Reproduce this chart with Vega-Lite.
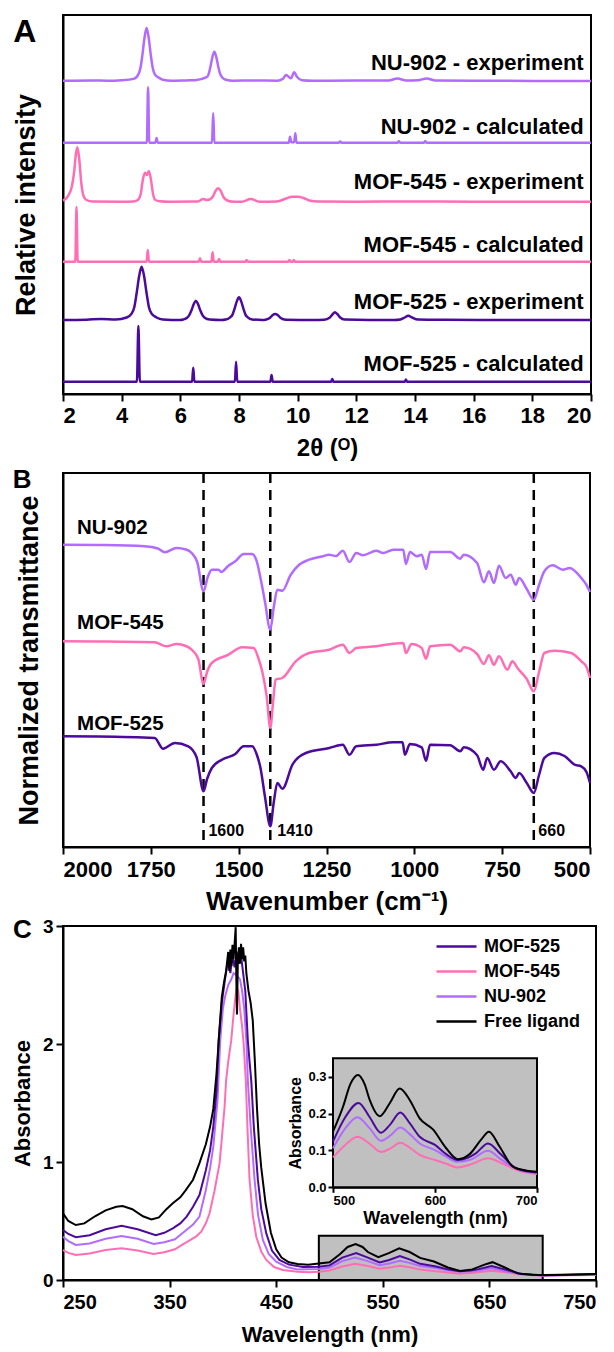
{
"$schema":"https://vega.github.io/schema/vega-lite/v6.json",
"background":"white",
"padding":{"left":10,"top":14,"right":8,"bottom":5},
"spacing":79,
"bounds":"flush",
"resolve":{"scale":{"color":"independent"}},
"config":{"font":"Liberation Sans","view":{"stroke":"black","strokeWidth":2},
"axis":{"grid":false,"domainColor":"black","domainWidth":2,"tickColor":"black","tickWidth":2,"tickSize":7,"labelColor":"black","titleColor":"black","labelFontWeight":"bold","titleFontWeight":"bold","labelFont":"Liberation Sans","titleFont":"Liberation Sans"}},
"datasets":{
"xrd":[
{"s":"NU-902 exp","x":2.0,"y":313.3},{"s":"NU-902 exp","x":3.0,"y":313.6},{"s":"NU-902 exp","x":3.5,"y":313.3},{"s":"NU-902 exp","x":4.0,"y":313.8},{"s":"NU-902 exp","x":4.43,"y":315.4},{"s":"NU-902 exp","x":4.57,"y":319.6},{"s":"NU-902 exp","x":4.64,"y":325.9},{"s":"NU-902 exp","x":4.71,"y":339.7},{"s":"NU-902 exp","x":4.78,"y":356.5},{"s":"NU-902 exp","x":4.85,"y":366},{"s":"NU-902 exp","x":4.92,"y":356.5},{"s":"NU-902 exp","x":4.99,"y":339.7},{"s":"NU-902 exp","x":5.06,"y":325.9},{"s":"NU-902 exp","x":5.13,"y":319.6},{"s":"NU-902 exp","x":5.27,"y":316.3},{"s":"NU-902 exp","x":5.4,"y":314.3},{"s":"NU-902 exp","x":5.7,"y":313.3},{"s":"NU-902 exp","x":6.2,"y":313.6},{"s":"NU-902 exp","x":6.5,"y":313.8},{"s":"NU-902 exp","x":6.9,"y":316.8},{"s":"NU-902 exp","x":6.97,"y":320.3},{"s":"NU-902 exp","x":7.03,"y":327.8},{"s":"NU-902 exp","x":7.095,"y":337.1},{"s":"NU-902 exp","x":7.16,"y":342.3},{"s":"NU-902 exp","x":7.225,"y":337.1},{"s":"NU-902 exp","x":7.29,"y":327.8},{"s":"NU-902 exp","x":7.355,"y":320.3},{"s":"NU-902 exp","x":7.42,"y":316.8},{"s":"NU-902 exp","x":7.55,"y":314.3},{"s":"NU-902 exp","x":7.8,"y":313.3},{"s":"NU-902 exp","x":8.5,"y":313.5},{"s":"NU-902 exp","x":9.3,"y":313.3},{"s":"NU-902 exp","x":9.5,"y":315.3},{"s":"NU-902 exp","x":9.6,"y":319},{"s":"NU-902 exp","x":9.7,"y":317},{"s":"NU-902 exp","x":9.77,"y":315.7},{"s":"NU-902 exp","x":9.88,"y":321.7},{"s":"NU-902 exp","x":9.98,"y":317},{"s":"NU-902 exp","x":10.15,"y":313.8},{"s":"NU-902 exp","x":10.5,"y":313.3},{"s":"NU-902 exp","x":12,"y":313.5},{"s":"NU-902 exp","x":13.1,"y":313.5},{"s":"NU-902 exp","x":13.4,"y":315.5},{"s":"NU-902 exp","x":13.7,"y":313.5},{"s":"NU-902 exp","x":14.1,"y":313.8},{"s":"NU-902 exp","x":14.4,"y":315.5},{"s":"NU-902 exp","x":14.7,"y":313.5},{"s":"NU-902 exp","x":16,"y":313.3},{"s":"NU-902 exp","x":18,"y":313.1},{"s":"NU-902 exp","x":20,"y":313.0},
{"s":"NU-902 calc","x":2,"y":251.3},{"s":"NU-902 calc","x":4.86,"y":251.3},{"s":"NU-902 calc","x":4.9,"y":306.7},{"s":"NU-902 calc","x":4.94,"y":251.3},{"s":"NU-902 calc","x":5.15,"y":251.3},{"s":"NU-902 calc","x":5.19,"y":256},{"s":"NU-902 calc","x":5.23,"y":251.3},{"s":"NU-902 calc","x":7.08,"y":251.3},{"s":"NU-902 calc","x":7.12,"y":280.7},{"s":"NU-902 calc","x":7.16,"y":251.3},{"s":"NU-902 calc","x":9.7,"y":251.3},{"s":"NU-902 calc","x":9.74,"y":257.3},{"s":"NU-902 calc","x":9.78,"y":251.8},{"s":"NU-902 calc","x":9.88,"y":251.8},{"s":"NU-902 calc","x":9.92,"y":260.7},{"s":"NU-902 calc","x":9.96,"y":251.3},{"s":"NU-902 calc","x":11.4,"y":251.3},{"s":"NU-902 calc","x":11.45,"y":252.5},{"s":"NU-902 calc","x":11.5,"y":251.3},{"s":"NU-902 calc","x":13.4,"y":251.3},{"s":"NU-902 calc","x":13.45,"y":252.8},{"s":"NU-902 calc","x":13.5,"y":251.3},{"s":"NU-902 calc","x":14.3,"y":251.3},{"s":"NU-902 calc","x":14.35,"y":252.8},{"s":"NU-902 calc","x":14.4,"y":251.3},{"s":"NU-902 calc","x":20,"y":251.3},
{"s":"MOF-545 exp","x":2.0,"y":193.5},{"s":"MOF-545 exp","x":2.15,"y":197},{"s":"MOF-545 exp","x":2.3,"y":207.3},{"s":"MOF-545 exp","x":2.38,"y":222},{"s":"MOF-545 exp","x":2.44,"y":240},{"s":"MOF-545 exp","x":2.49,"y":246.7},{"s":"MOF-545 exp","x":2.55,"y":236},{"s":"MOF-545 exp","x":2.62,"y":212},{"s":"MOF-545 exp","x":2.7,"y":198},{"s":"MOF-545 exp","x":2.8,"y":194},{"s":"MOF-545 exp","x":3.0,"y":192.5},{"s":"MOF-545 exp","x":4.0,"y":192.3},{"s":"MOF-545 exp","x":4.4,"y":192.5},{"s":"MOF-545 exp","x":4.55,"y":194},{"s":"MOF-545 exp","x":4.65,"y":200},{"s":"MOF-545 exp","x":4.72,"y":214},{"s":"MOF-545 exp","x":4.8,"y":221.3},{"s":"MOF-545 exp","x":4.86,"y":219},{"s":"MOF-545 exp","x":4.93,"y":223},{"s":"MOF-545 exp","x":5.0,"y":214},{"s":"MOF-545 exp","x":5.07,"y":200},{"s":"MOF-545 exp","x":5.15,"y":194},{"s":"MOF-545 exp","x":5.3,"y":192.8},{"s":"MOF-545 exp","x":5.6,"y":192.3},{"s":"MOF-545 exp","x":6.6,"y":192.5},{"s":"MOF-545 exp","x":6.78,"y":195},{"s":"MOF-545 exp","x":6.9,"y":194},{"s":"MOF-545 exp","x":7.0,"y":194.5},{"s":"MOF-545 exp","x":7.12,"y":198},{"s":"MOF-545 exp","x":7.2,"y":203},{"s":"MOF-545 exp","x":7.29,"y":205.7},{"s":"MOF-545 exp","x":7.38,"y":203},{"s":"MOF-545 exp","x":7.47,"y":197},{"s":"MOF-545 exp","x":7.6,"y":193.5},{"s":"MOF-545 exp","x":7.8,"y":192.3},{"s":"MOF-545 exp","x":8.1,"y":192.3},{"s":"MOF-545 exp","x":8.4,"y":195},{"s":"MOF-545 exp","x":8.7,"y":192.3},{"s":"MOF-545 exp","x":9.3,"y":192.5},{"s":"MOF-545 exp","x":9.6,"y":195.5},{"s":"MOF-545 exp","x":9.8,"y":197.3},{"s":"MOF-545 exp","x":10.0,"y":197.3},{"s":"MOF-545 exp","x":10.2,"y":196},{"s":"MOF-545 exp","x":10.4,"y":193.5},{"s":"MOF-545 exp","x":10.7,"y":192.5},{"s":"MOF-545 exp","x":12,"y":192.3},{"s":"MOF-545 exp","x":14,"y":192.5},{"s":"MOF-545 exp","x":16,"y":192.3},{"s":"MOF-545 exp","x":18,"y":192.2},{"s":"MOF-545 exp","x":20,"y":192.3},
{"s":"MOF-545 calc","x":2,"y":132.3},{"s":"MOF-545 calc","x":2.42,"y":132.3},{"s":"MOF-545 calc","x":2.46,"y":187},{"s":"MOF-545 calc","x":2.5,"y":132.3},{"s":"MOF-545 calc","x":4.85,"y":132.3},{"s":"MOF-545 calc","x":4.89,"y":144},{"s":"MOF-545 calc","x":4.93,"y":132.3},{"s":"MOF-545 calc","x":6.63,"y":132.3},{"s":"MOF-545 calc","x":6.67,"y":135.7},{"s":"MOF-545 calc","x":6.71,"y":132.3},{"s":"MOF-545 calc","x":7.06,"y":132.3},{"s":"MOF-545 calc","x":7.1,"y":141.7},{"s":"MOF-545 calc","x":7.14,"y":132.3},{"s":"MOF-545 calc","x":7.28,"y":132.3},{"s":"MOF-545 calc","x":7.32,"y":135},{"s":"MOF-545 calc","x":7.36,"y":132.3},{"s":"MOF-545 calc","x":8.22,"y":132.3},{"s":"MOF-545 calc","x":8.26,"y":134},{"s":"MOF-545 calc","x":8.3,"y":132.3},{"s":"MOF-545 calc","x":9.68,"y":132.3},{"s":"MOF-545 calc","x":9.72,"y":134},{"s":"MOF-545 calc","x":9.76,"y":132.3},{"s":"MOF-545 calc","x":9.83,"y":132.3},{"s":"MOF-545 calc","x":9.87,"y":134},{"s":"MOF-545 calc","x":9.91,"y":132.3},{"s":"MOF-545 calc","x":20,"y":132.3},
{"s":"MOF-525 exp","x":2.0,"y":74},{"s":"MOF-525 exp","x":2.8,"y":74.3},{"s":"MOF-525 exp","x":3.3,"y":75},{"s":"MOF-525 exp","x":3.8,"y":74.5},{"s":"MOF-525 exp","x":4.17,"y":76.5},{"s":"MOF-525 exp","x":4.34,"y":80.4},{"s":"MOF-525 exp","x":4.43,"y":86.8},{"s":"MOF-525 exp","x":4.51,"y":100.7},{"s":"MOF-525 exp","x":4.595,"y":117.7},{"s":"MOF-525 exp","x":4.68,"y":127.3},{"s":"MOF-525 exp","x":4.765,"y":117.7},{"s":"MOF-525 exp","x":4.85,"y":100.7},{"s":"MOF-525 exp","x":4.93,"y":86.8},{"s":"MOF-525 exp","x":5.02,"y":80.4},{"s":"MOF-525 exp","x":5.19,"y":76.5},{"s":"MOF-525 exp","x":5.4,"y":74.5},{"s":"MOF-525 exp","x":6.0,"y":74},{"s":"MOF-525 exp","x":6.1,"y":74.5},{"s":"MOF-525 exp","x":6.23,"y":76.3},{"s":"MOF-525 exp","x":6.3,"y":78.6},{"s":"MOF-525 exp","x":6.38,"y":83.7},{"s":"MOF-525 exp","x":6.455,"y":89.8},{"s":"MOF-525 exp","x":6.53,"y":93.3},{"s":"MOF-525 exp","x":6.605,"y":89.8},{"s":"MOF-525 exp","x":6.68,"y":83.7},{"s":"MOF-525 exp","x":6.76,"y":78.6},{"s":"MOF-525 exp","x":6.83,"y":76.3},{"s":"MOF-525 exp","x":7.0,"y":74.5},{"s":"MOF-525 exp","x":7.4,"y":74},{"s":"MOF-525 exp","x":7.55,"y":74.5},{"s":"MOF-525 exp","x":7.7,"y":76.7},{"s":"MOF-525 exp","x":7.78,"y":79.4},{"s":"MOF-525 exp","x":7.85,"y":85.4},{"s":"MOF-525 exp","x":7.925,"y":92.6},{"s":"MOF-525 exp","x":8.0,"y":96.7},{"s":"MOF-525 exp","x":8.075,"y":92.6},{"s":"MOF-525 exp","x":8.15,"y":85.4},{"s":"MOF-525 exp","x":8.22,"y":79.4},{"s":"MOF-525 exp","x":8.3,"y":76.7},{"s":"MOF-525 exp","x":8.45,"y":74.6},{"s":"MOF-525 exp","x":8.8,"y":74},{"s":"MOF-525 exp","x":8.9,"y":74.3},{"s":"MOF-525 exp","x":9.05,"y":76},{"s":"MOF-525 exp","x":9.15,"y":79},{"s":"MOF-525 exp","x":9.23,"y":80},{"s":"MOF-525 exp","x":9.32,"y":79},{"s":"MOF-525 exp","x":9.42,"y":76},{"s":"MOF-525 exp","x":9.6,"y":74.3},{"s":"MOF-525 exp","x":10.5,"y":74},{"s":"MOF-525 exp","x":10.9,"y":74.3},{"s":"MOF-525 exp","x":11.1,"y":76.5},{"s":"MOF-525 exp","x":11.2,"y":80},{"s":"MOF-525 exp","x":11.27,"y":81.7},{"s":"MOF-525 exp","x":11.35,"y":80},{"s":"MOF-525 exp","x":11.45,"y":76.5},{"s":"MOF-525 exp","x":11.6,"y":74.5},{"s":"MOF-525 exp","x":13.3,"y":74},{"s":"MOF-525 exp","x":13.5,"y":74.5},{"s":"MOF-525 exp","x":13.65,"y":76.5},{"s":"MOF-525 exp","x":13.77,"y":78.3},{"s":"MOF-525 exp","x":13.9,"y":76.5},{"s":"MOF-525 exp","x":14.1,"y":74.5},{"s":"MOF-525 exp","x":15,"y":74.2},{"s":"MOF-525 exp","x":17,"y":74},{"s":"MOF-525 exp","x":20,"y":74},
{"s":"MOF-525 calc","x":2,"y":12.3},{"s":"MOF-525 calc","x":4.52,"y":12.3},{"s":"MOF-525 calc","x":4.57,"y":68},{"s":"MOF-525 calc","x":4.62,"y":12.3},{"s":"MOF-525 calc","x":6.4,"y":12.3},{"s":"MOF-525 calc","x":6.44,"y":26.3},{"s":"MOF-525 calc","x":6.48,"y":12.3},{"s":"MOF-525 calc","x":7.86,"y":12.3},{"s":"MOF-525 calc","x":7.9,"y":32.3},{"s":"MOF-525 calc","x":7.94,"y":12.3},{"s":"MOF-525 calc","x":9.07,"y":12.3},{"s":"MOF-525 calc","x":9.11,"y":19},{"s":"MOF-525 calc","x":9.15,"y":12.3},{"s":"MOF-525 calc","x":11.14,"y":12.3},{"s":"MOF-525 calc","x":11.18,"y":15},{"s":"MOF-525 calc","x":11.22,"y":12.3},{"s":"MOF-525 calc","x":13.65,"y":12.3},{"s":"MOF-525 calc","x":13.69,"y":14.5},{"s":"MOF-525 calc","x":13.73,"y":12.3},{"s":"MOF-525 calc","x":20,"y":12.3}
],
"ftir":[
{"m":"NU-902","wn":2000,"v":302.3},{"m":"NU-902","wn":1900,"v":302},{"m":"NU-902","wn":1767.7,"v":300.7},{"m":"NU-902","wn":1730,"v":298.5},{"m":"NU-902","wn":1710.3,"v":294.7},{"m":"NU-902","wn":1676.8,"v":299},{"m":"NU-902","wn":1650,"v":297.5},{"m":"NU-902","wn":1633.8,"v":294},{"m":"NU-902","wn":1618,"v":285},{"m":"NU-902","wn":1600,"v":255.7},{"m":"NU-902","wn":1588,"v":270},{"m":"NU-902","wn":1576.4,"v":277.3},{"m":"NU-902","wn":1557.5,"v":277.3},{"m":"NU-902","wn":1549.8,"v":275},{"m":"NU-902","wn":1530,"v":281},{"m":"NU-902","wn":1509.6,"v":285.7},{"m":"NU-902","wn":1485.8,"v":293},{"m":"NU-902","wn":1461.7,"v":293},{"m":"NU-902","wn":1448,"v":285},{"m":"NU-902","wn":1437.9,"v":269},{"m":"NU-902","wn":1425,"v":245},{"m":"NU-902","wn":1410,"v":217.3},{"m":"NU-902","wn":1400,"v":240},{"m":"NU-902","wn":1389.9,"v":257.3},{"m":"NU-902","wn":1375.6,"v":256.3},{"m":"NU-902","wn":1351.8,"v":272.3},{"m":"NU-902","wn":1328,"v":282.3},{"m":"NU-902","wn":1299.3,"v":287.3},{"m":"NU-902","wn":1260.9,"v":290.7},{"m":"NU-902","wn":1242.9,"v":292.3},{"m":"NU-902","wn":1222.8,"v":291},{"m":"NU-902","wn":1203.6,"v":296.3},{"m":"NU-902","wn":1184.6,"v":285},{"m":"NU-902","wn":1165.4,"v":294},{"m":"NU-902","wn":1146.2,"v":291.7},{"m":"NU-902","wn":1108,"v":296.3},{"m":"NU-902","wn":1088.8,"v":294},{"m":"NU-902","wn":1060.2,"v":297.3},{"m":"NU-902","wn":1031.5,"v":297.3},{"m":"NU-902","wn":1024,"v":283},{"m":"NU-902","wn":1012.5,"v":295},{"m":"NU-902","wn":993.3,"v":290.7},{"m":"NU-902","wn":979,"v":292.3},{"m":"NU-902","wn":966.7,"v":278},{"m":"NU-902","wn":955.2,"v":295},{"m":"NU-902","wn":897.8,"v":295},{"m":"NU-902","wn":869.2,"v":288.3},{"m":"NU-902","wn":859.4,"v":292.3},{"m":"NU-902","wn":821.3,"v":284},{"m":"NU-902","wn":802,"v":264.7},{"m":"NU-902","wn":787.7,"v":275.7},{"m":"NU-902","wn":773.4,"v":264},{"m":"NU-902","wn":759,"v":281.3},{"m":"NU-902","wn":740.1,"v":269},{"m":"NU-902","wn":725.8,"v":272.3},{"m":"NU-902","wn":711.4,"v":262.3},{"m":"NU-902","wn":701.7,"v":269},{"m":"NU-902","wn":680,"v":258},{"m":"NU-902","wn":660,"v":247.3},{"m":"NU-902","wn":645,"v":262},{"m":"NU-902","wn":629.9,"v":275.7},{"m":"NU-902","wn":606.1,"v":281.7},{"m":"NU-902","wn":577.4,"v":277.3},{"m":"NU-902","wn":558.2,"v":279},{"m":"NU-902","wn":524.9,"v":269},{"m":"NU-902","wn":510,"v":262},{"m":"NU-902","wn":500,"v":255},
{"m":"MOF-545","wn":2000,"v":205.7},{"m":"MOF-545","wn":1900,"v":205.5},{"m":"MOF-545","wn":1739,"v":204.7},{"m":"MOF-545","wn":1705.5,"v":200.7},{"m":"MOF-545","wn":1676.8,"v":203},{"m":"MOF-545","wn":1650,"v":201},{"m":"MOF-545","wn":1633.8,"v":197.3},{"m":"MOF-545","wn":1615,"v":188},{"m":"MOF-545","wn":1600,"v":163},{"m":"MOF-545","wn":1590,"v":175},{"m":"MOF-545","wn":1576.4,"v":184},{"m":"MOF-545","wn":1528.8,"v":192.3},{"m":"MOF-545","wn":1490.3,"v":199.7},{"m":"MOF-545","wn":1457.1,"v":199},{"m":"MOF-545","wn":1445,"v":190},{"m":"MOF-545","wn":1433,"v":175.7},{"m":"MOF-545","wn":1420,"v":150},{"m":"MOF-545","wn":1410,"v":119},{"m":"MOF-545","wn":1402,"v":145},{"m":"MOF-545","wn":1394.9,"v":167.3},{"m":"MOF-545","wn":1375.6,"v":169},{"m":"MOF-545","wn":1337.5,"v":185.7},{"m":"MOF-545","wn":1299.3,"v":194},{"m":"MOF-545","wn":1242,"v":197.3},{"m":"MOF-545","wn":1203.6,"v":202.3},{"m":"MOF-545","wn":1184.6,"v":194},{"m":"MOF-545","wn":1165.4,"v":199},{"m":"MOF-545","wn":1108,"v":200.7},{"m":"MOF-545","wn":1060.2,"v":203.3},{"m":"MOF-545","wn":1031.5,"v":204},{"m":"MOF-545","wn":1024,"v":194},{"m":"MOF-545","wn":1007.7,"v":203},{"m":"MOF-545","wn":979,"v":199},{"m":"MOF-545","wn":966.7,"v":188.3},{"m":"MOF-545","wn":955.2,"v":200.7},{"m":"MOF-545","wn":897.8,"v":202.3},{"m":"MOF-545","wn":869.2,"v":195.7},{"m":"MOF-545","wn":859.4,"v":199.7},{"m":"MOF-545","wn":821.3,"v":193},{"m":"MOF-545","wn":802,"v":183},{"m":"MOF-545","wn":787.7,"v":191.7},{"m":"MOF-545","wn":773.4,"v":182.3},{"m":"MOF-545","wn":759,"v":190.7},{"m":"MOF-545","wn":735.2,"v":177.3},{"m":"MOF-545","wn":720.9,"v":185.7},{"m":"MOF-545","wn":706.5,"v":179},{"m":"MOF-545","wn":680,"v":168},{"m":"MOF-545","wn":660,"v":155.7},{"m":"MOF-545","wn":645,"v":175},{"m":"MOF-545","wn":629.9,"v":194},{"m":"MOF-545","wn":601.3,"v":196.3},{"m":"MOF-545","wn":553.6,"v":194},{"m":"MOF-545","wn":524.9,"v":185.7},{"m":"MOF-545","wn":510,"v":180},{"m":"MOF-545","wn":500,"v":169},
{"m":"MOF-525","wn":2000,"v":110.7},{"m":"MOF-525","wn":1900,"v":110.5},{"m":"MOF-525","wn":1739,"v":109},{"m":"MOF-525","wn":1715.2,"v":98.3},{"m":"MOF-525","wn":1681.7,"v":104},{"m":"MOF-525","wn":1643.5,"v":100.7},{"m":"MOF-525","wn":1620,"v":90},{"m":"MOF-525","wn":1600,"v":55.7},{"m":"MOF-525","wn":1590,"v":68},{"m":"MOF-525","wn":1576.4,"v":79},{"m":"MOF-525","wn":1547.7,"v":87.3},{"m":"MOF-525","wn":1509.6,"v":93},{"m":"MOF-525","wn":1485.8,"v":100.7},{"m":"MOF-525","wn":1461.7,"v":100.7},{"m":"MOF-525","wn":1448,"v":92},{"m":"MOF-525","wn":1437.9,"v":79},{"m":"MOF-525","wn":1425,"v":50},{"m":"MOF-525","wn":1410,"v":20.7},{"m":"MOF-525","wn":1400,"v":45},{"m":"MOF-525","wn":1389.9,"v":64},{"m":"MOF-525","wn":1375.6,"v":58.3},{"m":"MOF-525","wn":1346.9,"v":82.3},{"m":"MOF-525","wn":1308.8,"v":94},{"m":"MOF-525","wn":1242,"v":99},{"m":"MOF-525","wn":1203.6,"v":102.3},{"m":"MOF-525","wn":1184.6,"v":92.3},{"m":"MOF-525","wn":1165.4,"v":100.7},{"m":"MOF-525","wn":1108,"v":102.3},{"m":"MOF-525","wn":1060.2,"v":104.7},{"m":"MOF-525","wn":1033.5,"v":104.7},{"m":"MOF-525","wn":1026.9,"v":92.3},{"m":"MOF-525","wn":1012.5,"v":103},{"m":"MOF-525","wn":979,"v":99.7},{"m":"MOF-525","wn":966.7,"v":86.3},{"m":"MOF-525","wn":955.2,"v":102.3},{"m":"MOF-525","wn":897.8,"v":101.7},{"m":"MOF-525","wn":869.2,"v":95.7},{"m":"MOF-525","wn":859.4,"v":99.7},{"m":"MOF-525","wn":821.3,"v":91.7},{"m":"MOF-525","wn":804,"v":77.3},{"m":"MOF-525","wn":792.6,"v":89},{"m":"MOF-525","wn":773.4,"v":77.3},{"m":"MOF-525","wn":754.4,"v":85.7},{"m":"MOF-525","wn":725.8,"v":75.7},{"m":"MOF-525","wn":711.4,"v":69},{"m":"MOF-525","wn":701.7,"v":74},{"m":"MOF-525","wn":680,"v":64},{"m":"MOF-525","wn":660,"v":54},{"m":"MOF-525","wn":645,"v":72},{"m":"MOF-525","wn":629.9,"v":89},{"m":"MOF-525","wn":601.3,"v":94},{"m":"MOF-525","wn":572.6,"v":91},{"m":"MOF-525","wn":543.9,"v":82.3},{"m":"MOF-525","wn":524.9,"v":80.7},{"m":"MOF-525","wn":510,"v":75},{"m":"MOF-525","wn":500,"v":64}
],
"uv":[
{"m":"MOF-545","wl":250,"a":0.254},{"m":"MOF-545","wl":255,"a":0.23},{"m":"MOF-545","wl":262,"a":0.212},{"m":"MOF-545","wl":275,"a":0.225},{"m":"MOF-545","wl":290,"a":0.255},{"m":"MOF-545","wl":305,"a":0.268},{"m":"MOF-545","wl":320,"a":0.25},{"m":"MOF-545","wl":335,"a":0.22},{"m":"MOF-545","wl":345,"a":0.235},{"m":"MOF-545","wl":355,"a":0.26},{"m":"MOF-545","wl":362,"a":0.3},{"m":"MOF-545","wl":370.4,"a":0.345},{"m":"MOF-545","wl":375,"a":0.37},{"m":"MOF-545","wl":379.7,"a":0.41},{"m":"MOF-545","wl":384,"a":0.48},{"m":"MOF-545","wl":387.5,"a":0.565},{"m":"MOF-545","wl":392,"a":0.75},{"m":"MOF-545","wl":396.9,"a":0.99},{"m":"MOF-545","wl":399,"a":1.2},{"m":"MOF-545","wl":401.6,"a":1.47},{"m":"MOF-545","wl":403,"a":1.69},{"m":"MOF-545","wl":405,"a":1.85},{"m":"MOF-545","wl":407.8,"a":2.03},{"m":"MOF-545","wl":410,"a":2.25},{"m":"MOF-545","wl":412,"a":2.42},{"m":"MOF-545","wl":413,"a":2.48},{"m":"MOF-545","wl":414.5,"a":2.45},{"m":"MOF-545","wl":416,"a":2.3},{"m":"MOF-545","wl":418,"a":2.15},{"m":"MOF-545","wl":419.5,"a":2.0},{"m":"MOF-545","wl":421.5,"a":1.69},{"m":"MOF-545","wl":423,"a":1.3},{"m":"MOF-545","wl":425,"a":0.85},{"m":"MOF-545","wl":428,"a":0.55},{"m":"MOF-545","wl":431.3,"a":0.367},{"m":"MOF-545","wl":436,"a":0.24},{"m":"MOF-545","wl":440.7,"a":0.17},{"m":"MOF-545","wl":448,"a":0.11},{"m":"MOF-545","wl":456.3,"a":0.085},{"m":"MOF-545","wl":470,"a":0.07},{"m":"MOF-545","wl":481,"a":0.065},{"m":"MOF-545","wl":490,"a":0.07},{"m":"MOF-545","wl":500,"a":0.081},{"m":"MOF-545","wl":512,"a":0.115},{"m":"MOF-545","wl":524,"a":0.137},{"m":"MOF-545","wl":536,"a":0.118},{"m":"MOF-545","wl":547,"a":0.096},{"m":"MOF-545","wl":556,"a":0.105},{"m":"MOF-545","wl":566,"a":0.121},{"m":"MOF-545","wl":575,"a":0.108},{"m":"MOF-545","wl":585,"a":0.088},{"m":"MOF-545","wl":600,"a":0.074},{"m":"MOF-545","wl":611,"a":0.064},{"m":"MOF-545","wl":622,"a":0.054},{"m":"MOF-545","wl":635,"a":0.062},{"m":"MOF-545","wl":652,"a":0.079},{"m":"MOF-545","wl":665,"a":0.066},{"m":"MOF-545","wl":680,"a":0.047},{"m":"MOF-545","wl":700,"a":0.036},{"m":"MOF-545","wl":725,"a":0.04},{"m":"MOF-545","wl":750,"a":0.043},
{"m":"NU-902","wl":250,"a":0.367},{"m":"NU-902","wl":255,"a":0.33},{"m":"NU-902","wl":262,"a":0.297},{"m":"NU-902","wl":275,"a":0.31},{"m":"NU-902","wl":290,"a":0.35},{"m":"NU-902","wl":305,"a":0.373},{"m":"NU-902","wl":320,"a":0.35},{"m":"NU-902","wl":335,"a":0.305},{"m":"NU-902","wl":345,"a":0.32},{"m":"NU-902","wl":355,"a":0.345},{"m":"NU-902","wl":365.7,"a":0.424},{"m":"NU-902","wl":372,"a":0.47},{"m":"NU-902","wl":378,"a":0.537},{"m":"NU-902","wl":384,"a":0.763},{"m":"NU-902","wl":388,"a":0.95},{"m":"NU-902","wl":391,"a":1.13},{"m":"NU-902","wl":395,"a":1.53},{"m":"NU-902","wl":397.5,"a":2.03},{"m":"NU-902","wl":400,"a":2.3},{"m":"NU-902","wl":402,"a":2.4},{"m":"NU-902","wl":405,"a":2.5},{"m":"NU-902","wl":408,"a":2.55},{"m":"NU-902","wl":410,"a":2.6},{"m":"NU-902","wl":413,"a":2.58},{"m":"NU-902","wl":416,"a":2.55},{"m":"NU-902","wl":418,"a":2.45},{"m":"NU-902","wl":420,"a":2.3},{"m":"NU-902","wl":422,"a":2.03},{"m":"NU-902","wl":423.4,"a":1.69},{"m":"NU-902","wl":426,"a":1.3},{"m":"NU-902","wl":429.7,"a":0.85},{"m":"NU-902","wl":433,"a":0.55},{"m":"NU-902","wl":437.5,"a":0.34},{"m":"NU-902","wl":443,"a":0.22},{"m":"NU-902","wl":450,"a":0.155},{"m":"NU-902","wl":460,"a":0.11},{"m":"NU-902","wl":470,"a":0.09},{"m":"NU-902","wl":490,"a":0.093},{"m":"NU-902","wl":500,"a":0.106},{"m":"NU-902","wl":512,"a":0.16},{"m":"NU-902","wl":524,"a":0.19},{"m":"NU-902","wl":536,"a":0.16},{"m":"NU-902","wl":547,"a":0.126},{"m":"NU-902","wl":556,"a":0.14},{"m":"NU-902","wl":566,"a":0.162},{"m":"NU-902","wl":575,"a":0.145},{"m":"NU-902","wl":585,"a":0.119},{"m":"NU-902","wl":600,"a":0.101},{"m":"NU-902","wl":611,"a":0.083},{"m":"NU-902","wl":622,"a":0.069},{"m":"NU-902","wl":635,"a":0.075},{"m":"NU-902","wl":652,"a":0.099},{"m":"NU-902","wl":665,"a":0.075},{"m":"NU-902","wl":680,"a":0.05},{"m":"NU-902","wl":700,"a":0.038},{"m":"NU-902","wl":725,"a":0.042},{"m":"NU-902","wl":750,"a":0.045},
{"m":"MOF-525","wl":250,"a":0.424},{"m":"MOF-525","wl":255,"a":0.39},{"m":"MOF-525","wl":262,"a":0.362},{"m":"MOF-525","wl":275,"a":0.38},{"m":"MOF-525","wl":290,"a":0.43},{"m":"MOF-525","wl":305,"a":0.46},{"m":"MOF-525","wl":320,"a":0.43},{"m":"MOF-525","wl":337,"a":0.379},{"m":"MOF-525","wl":345,"a":0.4},{"m":"MOF-525","wl":353,"a":0.438},{"m":"MOF-525","wl":360,"a":0.48},{"m":"MOF-525","wl":366,"a":0.537},{"m":"MOF-525","wl":372,"a":0.62},{"m":"MOF-525","wl":378,"a":0.72},{"m":"MOF-525","wl":384,"a":0.93},{"m":"MOF-525","wl":388,"a":1.1},{"m":"MOF-525","wl":391,"a":1.3},{"m":"MOF-525","wl":394,"a":1.6},{"m":"MOF-525","wl":396,"a":2.03},{"m":"MOF-525","wl":399,"a":2.35},{"m":"MOF-525","wl":402,"a":2.55},{"m":"MOF-525","wl":405,"a":2.72},{"m":"MOF-525","wl":407,"a":2.6},{"m":"MOF-525","wl":409,"a":2.75},{"m":"MOF-525","wl":411,"a":2.65},{"m":"MOF-525","wl":413,"a":2.78},{"m":"MOF-525","wl":415,"a":2.68},{"m":"MOF-525","wl":417,"a":2.75},{"m":"MOF-525","wl":419,"a":2.6},{"m":"MOF-525","wl":421,"a":2.45},{"m":"MOF-525","wl":423.4,"a":2.03},{"m":"MOF-525","wl":425,"a":1.85},{"m":"MOF-525","wl":426.6,"a":1.69},{"m":"MOF-525","wl":429,"a":1.3},{"m":"MOF-525","wl":432.8,"a":0.85},{"m":"MOF-525","wl":436,"a":0.6},{"m":"MOF-525","wl":440.7,"a":0.395},{"m":"MOF-525","wl":446,"a":0.25},{"m":"MOF-525","wl":453,"a":0.17},{"m":"MOF-525","wl":462,"a":0.13},{"m":"MOF-525","wl":475,"a":0.11},{"m":"MOF-525","wl":490,"a":0.112},{"m":"MOF-525","wl":500,"a":0.124},{"m":"MOF-525","wl":512,"a":0.19},{"m":"MOF-525","wl":525,"a":0.229},{"m":"MOF-525","wl":536,"a":0.19},{"m":"MOF-525","wl":547,"a":0.148},{"m":"MOF-525","wl":556,"a":0.17},{"m":"MOF-525","wl":566,"a":0.203},{"m":"MOF-525","wl":575,"a":0.175},{"m":"MOF-525","wl":585,"a":0.137},{"m":"MOF-525","wl":600,"a":0.115},{"m":"MOF-525","wl":611,"a":0.09},{"m":"MOF-525","wl":622,"a":0.074},{"m":"MOF-525","wl":632,"a":0.08},{"m":"MOF-525","wl":640,"a":0.092},{"m":"MOF-525","wl":652,"a":0.119},{"m":"MOF-525","wl":665,"a":0.088},{"m":"MOF-525","wl":680,"a":0.051},{"m":"MOF-525","wl":700,"a":0.04},{"m":"MOF-525","wl":725,"a":0.045},{"m":"MOF-525","wl":750,"a":0.05},
{"m":"Free ligand","wl":250,"a":0.565},{"m":"Free ligand","wl":255,"a":0.5},{"m":"Free ligand","wl":262,"a":0.466},{"m":"Free ligand","wl":270,"a":0.48},{"m":"Free ligand","wl":280,"a":0.54},{"m":"Free ligand","wl":290,"a":0.59},{"m":"Free ligand","wl":300,"a":0.62},{"m":"Free ligand","wl":306,"a":0.627},{"m":"Free ligand","wl":315,"a":0.6},{"m":"Free ligand","wl":325,"a":0.54},{"m":"Free ligand","wl":333,"a":0.514},{"m":"Free ligand","wl":340,"a":0.53},{"m":"Free ligand","wl":347,"a":0.6},{"m":"Free ligand","wl":353,"a":0.65},{"m":"Free ligand","wl":360,"a":0.7},{"m":"Free ligand","wl":365,"a":0.76},{"m":"Free ligand","wl":372,"a":0.85},{"m":"Free ligand","wl":378,"a":0.99},{"m":"Free ligand","wl":384,"a":1.15},{"m":"Free ligand","wl":388,"a":1.3},{"m":"Free ligand","wl":391,"a":1.45},{"m":"Free ligand","wl":394,"a":1.75},{"m":"Free ligand","wl":397,"a":2.15},{"m":"Free ligand","wl":399,"a":2.4},{"m":"Free ligand","wl":401,"a":2.52},{"m":"Free ligand","wl":403,"a":2.62},{"m":"Free ligand","wl":405,"a":2.78},{"m":"Free ligand","wl":406,"a":2.62},{"m":"Free ligand","wl":407,"a":2.8},{"m":"Free ligand","wl":408,"a":2.66},{"m":"Free ligand","wl":409,"a":2.84},{"m":"Free ligand","wl":410,"a":2.72},{"m":"Free ligand","wl":411,"a":2.85},{"m":"Free ligand","wl":412,"a":2.99},{"m":"Free ligand","wl":412.6,"a":2.55},{"m":"Free ligand","wl":413.2,"a":2.25},{"m":"Free ligand","wl":414,"a":2.7},{"m":"Free ligand","wl":415,"a":2.82},{"m":"Free ligand","wl":416,"a":2.68},{"m":"Free ligand","wl":417,"a":2.85},{"m":"Free ligand","wl":418,"a":2.72},{"m":"Free ligand","wl":419,"a":2.82},{"m":"Free ligand","wl":420,"a":2.7},{"m":"Free ligand","wl":421,"a":2.75},{"m":"Free ligand","wl":422,"a":2.6},{"m":"Free ligand","wl":424,"a":2.45},{"m":"Free ligand","wl":426,"a":2.35},{"m":"Free ligand","wl":428,"a":2.2},{"m":"Free ligand","wl":430,"a":1.85},{"m":"Free ligand","wl":432,"a":1.45},{"m":"Free ligand","wl":434,"a":1.15},{"m":"Free ligand","wl":436,"a":0.95},{"m":"Free ligand","wl":440,"a":0.65},{"m":"Free ligand","wl":445,"a":0.4},{"m":"Free ligand","wl":450,"a":0.26},{"m":"Free ligand","wl":455,"a":0.19},{"m":"Free ligand","wl":462,"a":0.15},{"m":"Free ligand","wl":470,"a":0.135},{"m":"Free ligand","wl":480,"a":0.13},{"m":"Free ligand","wl":490,"a":0.14},{"m":"Free ligand","wl":500,"a":0.151},{"m":"Free ligand","wl":510,"a":0.22},{"m":"Free ligand","wl":517,"a":0.28},{"m":"Free ligand","wl":524.5,"a":0.305},{"m":"Free ligand","wl":531,"a":0.28},{"m":"Free ligand","wl":536,"a":0.237},{"m":"Free ligand","wl":545.8,"a":0.193},{"m":"Free ligand","wl":555.6,"a":0.228},{"m":"Free ligand","wl":565.4,"a":0.268},{"m":"Free ligand","wl":575.2,"a":0.237},{"m":"Free ligand","wl":585,"a":0.187},{"m":"Free ligand","wl":598,"a":0.157},{"m":"Free ligand","wl":611,"a":0.106},{"m":"Free ligand","wl":622.5,"a":0.076},{"m":"Free ligand","wl":634,"a":0.09},{"m":"Free ligand","wl":645.4,"a":0.13},{"m":"Free ligand","wl":652.9,"a":0.151},{"m":"Free ligand","wl":663.4,"a":0.11},{"m":"Free ligand","wl":676.4,"a":0.056},{"m":"Free ligand","wl":690,"a":0.045},{"m":"Free ligand","wl":700,"a":0.042},{"m":"Free ligand","wl":720,"a":0.045},{"m":"Free ligand","wl":740,"a":0.048},{"m":"Free ligand","wl":750,"a":0.05}
]
},
"vconcat":[
{
"width":528,"height":379,
"layer":[
{"data":{"name":"xrd"},"mark":{"type":"line","strokeWidth":2.5,"interpolate":"monotone"},
"encoding":{
"x":{"field":"x","type":"quantitative","scale":{"domain":[2,20],"nice":false,"zero":false},"axis":{"values":[2,4,6,8,10,12,14,16,18,20],"title":"2θ (ᴼ)","labelFontSize":22,"titleFontSize":24,"labelPadding":4,"titlePadding":10}},
"y":{"field":"y","type":"quantitative","scale":{"domain":[0,379],"nice":false},"axis":{"title":"Relative intensity","ticks":false,"labels":false,"titleFontSize":27,"titlePadding":23}},
"color":{"field":"s","type":"nominal","scale":{"domain":["NU-902 exp","NU-902 calc","MOF-545 exp","MOF-545 calc","MOF-525 exp","MOF-525 calc"],"range":["#B26BFF","#B26BFF","#FF6EB4","#FF6EB4","#4B0A9B","#4B0A9B"]},"legend":null}}},
{"data":{"values":[{"x":19.75,"y":331,"t":"NU-902 - experiment"},{"x":19.75,"y":267,"t":"NU-902 - calculated"},{"x":19.75,"y":212,"t":"MOF-545 - experiment"},{"x":19.75,"y":149,"t":"MOF-545 - calculated"},{"x":19.75,"y":92,"t":"MOF-525 - experiment"},{"x":19.75,"y":30,"t":"MOF-525 - calculated"}]},
"mark":{"type":"text","align":"right","baseline":"middle","fontSize":22,"fontWeight":"bold","color":"black"},
"encoding":{"x":{"field":"x","type":"quantitative"},"y":{"field":"y","type":"quantitative"},"text":{"field":"t"}}},
{"data":{"values":[{"x":0.3,"y":352,"t":"A"}]},
"mark":{"type":"text","align":"left","baseline":"alphabetic","fontSize":32,"fontWeight":"bold","color":"black"},
"encoding":{"x":{"field":"x","type":"quantitative"},"y":{"field":"y","type":"quantitative"},"text":{"field":"t"}}}
]},
{
"width":527,"height":374,
"layer":[
{"data":{"values":[{"wn":1600},{"wn":1410},{"wn":660}]},"mark":{"type":"rule","strokeDash":[10,7],"strokeWidth":2.5,"color":"black"},"encoding":{"x":{"field":"wn","type":"quantitative"}}},
{"data":{"name":"ftir"},"mark":{"type":"line","strokeWidth":2.5,"interpolate":"monotone"},
"encoding":{
"x":{"field":"wn","type":"quantitative","scale":{"domain":[500,2000],"reverse":true,"nice":false,"zero":false},"axis":{"values":[500,750,1000,1250,1500,1750,2000],"format":"d","title":"Wavenumber (cm⁻¹)","labelFontSize":22,"titleFontSize":26,"labelPadding":5,"titlePadding":8}},
"y":{"field":"v","type":"quantitative","scale":{"domain":[0,374],"nice":false},"axis":{"title":"Normalized transmittance","ticks":false,"labels":false,"titleFontSize":27,"titlePadding":20}},
"color":{"field":"m","type":"nominal","scale":{"domain":["NU-902","MOF-545","MOF-525"],"range":["#B26BFF","#FF6EB4","#4B0A9B"]},"legend":null}}},
{"data":{"values":[{"wn":1960,"v":319,"t":"NU-902"},{"wn":1960,"v":224,"t":"MOF-545"},{"wn":1960,"v":123,"t":"MOF-525"}]},
"mark":{"type":"text","align":"left","baseline":"middle","fontSize":20.5,"fontWeight":"bold","color":"black"},
"encoding":{"x":{"field":"wn","type":"quantitative"},"y":{"field":"v","type":"quantitative"},"text":{"field":"t"}}},
{"data":{"values":[{"wn":1586,"v":16,"t":"1600"},{"wn":1390,"v":16,"t":"1410"},{"wn":647,"v":16,"t":"660"}]},
"mark":{"type":"text","align":"left","baseline":"middle","fontSize":16,"fontWeight":"bold","color":"black"},
"encoding":{"x":{"field":"wn","type":"quantitative"},"y":{"field":"v","type":"quantitative"},"text":{"field":"t"}}},
{"data":{"values":[{"wn":2143,"v":359,"t":"B"}]},
"mark":{"type":"text","align":"left","baseline":"alphabetic","fontSize":26,"fontWeight":"bold","color":"black"},
"encoding":{"x":{"field":"wn","type":"quantitative"},"y":{"field":"v","type":"quantitative"},"text":{"field":"t"}}}
]},
{
"width":533,"height":354,
"resolve":{"scale":{"x":"independent","y":"independent"}},
"layer":[
{"encoding":{
"x":{"field":"wl","type":"quantitative","scale":{"domain":[250,750],"nice":false,"zero":false},"axis":{"values":[250,350,450,550,650,750],"title":"Wavelength (nm)","labelFontSize":20,"titleFontSize":22,"labelPadding":5,"titlePadding":12}},
"y":{"field":"a","type":"quantitative","scale":{"domain":[0,3],"nice":false},"axis":{"values":[0,1,2,3],"title":"Absorbance","labelFontSize":19,"titleFontSize":22,"labelPadding":3,"titlePadding":8}}},
"layer":[
{"data":{"values":[{"wl":490,"wl2":700,"a":0,"a2":0.375}]},"mark":{"type":"rect","fill":"#C0C0C0","stroke":"black","strokeWidth":2},"encoding":{"x2":{"field":"wl2"},"y2":{"field":"a2"}}},
{"data":{"name":"uv"},"mark":{"type":"line","strokeWidth":2},
"encoding":{"color":{"field":"m","type":"nominal","scale":{"domain":["MOF-525","MOF-545","NU-902","Free ligand"],"range":["#4B0A9B","#FF6EB4","#B26BFF","#000000"]},
"legend":{"orient":"none","legendX":372,"legendY":8,"title":null,"symbolType":"stroke","symbolSize":1600,"symbolStrokeWidth":2.5,"labelFontSize":18,"labelFontWeight":"bold","labelColor":"black","labelFont":"Liberation Sans","clipHeight":25,"rowPadding":0,"labelOffset":6,"padding":0}}}},
{"data":{"values":[{"wl":203,"a":2.898,"t":"C"}]},
"mark":{"type":"text","align":"left","baseline":"alphabetic","fontSize":26,"fontWeight":"bold","color":"black"},
"encoding":{"text":{"field":"t"}}}
]},
{"encoding":{
"x":{"field":"wl","type":"quantitative","scale":{"domain":[500,700],"range":[270,474],"nice":false,"zero":false},"axis":{"orient":"bottom","offset":-92.7,"values":[500,600,700],"title":"Wavelength (nm)","labelFontSize":13,"titleFontSize":18,"tickSize":5,"labelPadding":2,"titlePadding":2}},
"y":{"field":"a","type":"quantitative","scale":{"domain":[0,0.35],"range":[261.3,132.3],"nice":false,"zero":false},"axis":{"orient":"left","offset":-270,"values":[0,0.1,0.2,0.3],"format":".1f","title":"Absorbance","labelFontSize":13,"titleFontSize":16,"tickSize":5,"labelPadding":2,"titlePadding":4}}},
"layer":[
{"data":{"values":[{"wl":500,"wl2":700,"a":0,"a2":0.35}]},"mark":{"type":"rect","fill":"#C0C0C0","stroke":"black","strokeWidth":2},"encoding":{"x2":{"field":"wl2"},"y2":{"field":"a2"}}},
{"data":{"name":"uv"},"transform":[{"filter":{"field":"wl","range":[500,700]}}],"mark":{"type":"line","strokeWidth":2,"interpolate":"monotone"},
"encoding":{"color":{"field":"m","type":"nominal","scale":{"domain":["MOF-525","MOF-545","NU-902","Free ligand"],"range":["#4B0A9B","#FF6EB4","#B26BFF","#000000"]},
"legend":{"orient":"none","legendX":372,"legendY":8,"title":null,"symbolType":"stroke","symbolSize":1600,"symbolStrokeWidth":2.5,"labelFontSize":18,"labelFontWeight":"bold","labelColor":"black","labelFont":"Liberation Sans","clipHeight":25,"rowPadding":0,"labelOffset":6,"padding":0}}}}
]}
]}
]
}
